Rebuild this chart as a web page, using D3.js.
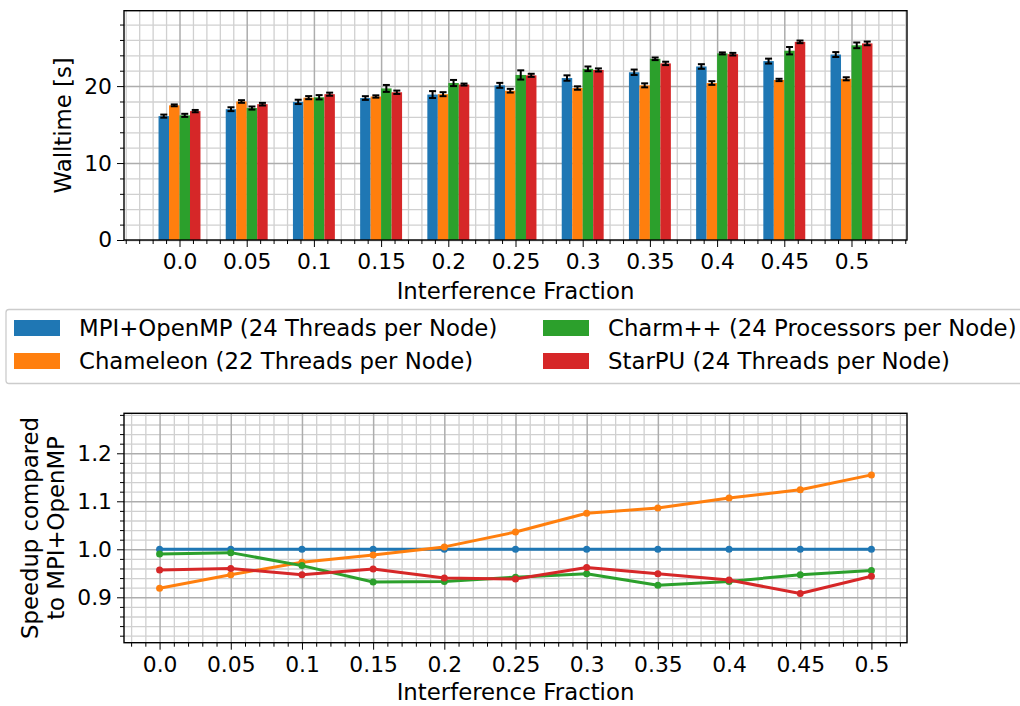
<!DOCTYPE html>
<html>
<head>
<meta charset="utf-8">
<script src="https://cdn.jsdelivr.net/npm/d3@7"></script>
<style>
  body { margin: 0; background: #fff; }
  text { font-family: "DejaVu Sans", sans-serif; fill: #000; }
</style>
</head>
<body>
<div id="container"></div>
<script>
/* DATA */
const fractionLabels = ["0.0", "0.05", "0.1", "0.15", "0.2", "0.25", "0.3", "0.35", "0.4", "0.45", "0.5"];
const fractionValues = [0, 0.05, 0.1, 0.15, 0.2, 0.25, 0.3, 0.35, 0.4, 0.45, 0.5];
const seriesNames = [
  "MPI+OpenMP (24 Threads per Node)",
  "Chameleon (22 Threads per Node)",
  "Charm++ (24 Processors per Node)",
  "StarPU (24 Threads per Node)"
];
const seriesColors = ["#1f77b4", "#ff7f0e", "#2ca02c", "#d62728"];

// walltime means [s]
const mpiWall = [16.1, 17.0, 17.95, 18.45, 18.9, 20.1, 21.05, 21.8, 22.55, 23.25, 24.1];
const chameleonWall = [17.5, 18.0, 18.5, 18.65, 18.95, 19.4, 19.75, 20.1, 20.4, 20.8, 20.95];
const charmWall = [16.2, 17.15, 18.55, 19.7, 20.4, 21.45, 22.25, 23.55, 24.25, 24.6, 25.3];
const starpuWall = [16.75, 17.65, 18.95, 19.2, 20.2, 21.4, 22.1, 22.95, 24.15, 25.75, 25.55];
// walltime error (half length) [s]
const mpiErr = [0.2, 0.25, 0.28, 0.24, 0.45, 0.32, 0.35, 0.35, 0.3, 0.32, 0.32];
const chameleonErr = [0.12, 0.17, 0.2, 0.15, 0.26, 0.24, 0.22, 0.26, 0.24, 0.15, 0.2];
const charmErr = [0.2, 0.2, 0.28, 0.45, 0.4, 0.6, 0.3, 0.17, 0.13, 0.48, 0.37];
const starpuErr = [0.15, 0.17, 0.2, 0.22, 0.13, 0.2, 0.2, 0.22, 0.17, 0.17, 0.24];

// speedup compared to MPI+OpenMP
const mpiSpeedup = [1, 1, 1, 1, 1, 1, 1, 1, 1, 1, 1];
const chameleonSpeedup = [0.919, 0.947, 0.973, 0.988, 1.005, 1.036, 1.075, 1.086, 1.107, 1.124, 1.155];
const charmSpeedup = [0.99, 0.993, 0.966, 0.932, 0.933, 0.942, 0.949, 0.925, 0.933, 0.947, 0.956];
const starpuSpeedup = [0.957, 0.960, 0.947, 0.959, 0.940, 0.938, 0.962, 0.949, 0.936, 0.908, 0.944];

const yTicksTop = [0, 10, 20];
const yTicksBottom = [0.9, 1.0, 1.1, 1.2];

/* CONSTANTS */
const width = 1020, height = 706;
const fontTick = 21.8, fontLabel = 22.8;
const majorGrid = "#adadad", minorGrid = "#d0d0d0";

const svg = d3.select("#container").append("svg")
  .attr("width", width).attr("height", height);

const walls = [mpiWall, chameleonWall, charmWall, starpuWall];
const errs = [mpiErr, chameleonErr, charmErr, starpuErr];
const speedups = [mpiSpeedup, chameleonSpeedup, charmSpeedup, starpuSpeedup];

/* ---------- TOP: BAR CHART ---------- */
const topBox = { left: 124, right: 907, top: 10.7, bottom: 240 };
const xTop = d3.scaleLinear().domain([-0.826, 10.826]).range([topBox.left, topBox.right]);
const yTop = d3.scaleLinear().domain([0, 29.8]).range([topBox.bottom, topBox.top]);

const gTop = svg.append("g");

// grid (minor, then major)
const xMinorTop = d3.range(-4, 55).map(i => i * 0.2).filter(v => Math.abs(v - Math.round(v)) > 1e-6);
const yMinorTop = d3.range(1, 15).map(i => i * 2).filter(v => v % 10 !== 0);

gTop.append("g").attr("transform", `translate(0,${topBox.bottom})`)
  .call(d3.axisBottom(xTop).tickValues(xMinorTop).tickSize(-(topBox.bottom - topBox.top)).tickFormat(""))
  .call(g => g.select(".domain").remove())
  .call(g => g.selectAll("line").attr("stroke", minorGrid).attr("stroke-width", 1.3));
gTop.append("g").attr("transform", `translate(${topBox.left},0)`)
  .call(d3.axisLeft(yTop).tickValues(yMinorTop).tickSize(-(topBox.right - topBox.left)).tickFormat(""))
  .call(g => g.select(".domain").remove())
  .call(g => g.selectAll("line").attr("stroke", minorGrid).attr("stroke-width", 1.3));
gTop.append("g").attr("transform", `translate(0,${topBox.bottom})`)
  .call(d3.axisBottom(xTop).tickValues(d3.range(11)).tickSize(-(topBox.bottom - topBox.top)).tickFormat(""))
  .call(g => g.select(".domain").remove())
  .call(g => g.selectAll("line").attr("stroke", majorGrid).attr("stroke-width", 1.5));
gTop.append("g").attr("transform", `translate(${topBox.left},0)`)
  .call(d3.axisLeft(yTop).tickValues(yTicksTop).tickSize(-(topBox.right - topBox.left)).tickFormat(""))
  .call(g => g.select(".domain").remove())
  .call(g => g.selectAll("line").attr("stroke", majorGrid).attr("stroke-width", 1.5));

// bars
const barW = 0.156;
walls.forEach((vals, s) => {
  const off = (s - 1.5) * barW;
  gTop.selectAll(`rect.s${s}`)
    .data(vals)
    .join("rect")
    .attr("class", `s${s}`)
    .attr("x", (d, i) => xTop(i + off - barW / 2))
    .attr("width", xTop(barW) - xTop(0))
    .attr("y", d => yTop(d))
    .attr("height", d => yTop(0) - yTop(d))
    .attr("fill", seriesColors[s]);
});

// error bars
walls.forEach((vals, s) => {
  const off = (s - 1.5) * barW;
  const eg = gTop.append("g").attr("stroke", "#000").attr("stroke-width", 2);
  vals.forEach((v, i) => {
    const cx = xTop(i + off);
    const e = errs[s][i];
    eg.append("line").attr("x1", cx).attr("x2", cx).attr("y1", yTop(v - e)).attr("y2", yTop(v + e));
    [v - e, v + e].forEach(c => {
      eg.append("line").attr("x1", cx - 3.5).attr("x2", cx + 3.5).attr("y1", yTop(c)).attr("y2", yTop(c));
    });
  });
});

// axes
gTop.append("g").attr("transform", `translate(0,${topBox.bottom})`)
  .call(d3.axisBottom(xTop).tickValues(xMinorTop).tickSize(4).tickFormat(""))
  .call(g => g.select(".domain").remove());
gTop.append("g").attr("transform", `translate(0,${topBox.bottom})`)
  .call(d3.axisBottom(xTop).tickValues(d3.range(11)).tickSize(7).tickPadding(7)
    .tickFormat(i => fractionLabels[i]))
  .call(g => g.select(".domain").remove())
  .call(g => g.selectAll("text").attr("font-size", fontTick).attr("font-family", "DejaVu Sans"));
gTop.append("g").attr("transform", `translate(${topBox.left},0)`)
  .call(d3.axisLeft(yTop).tickValues(yMinorTop).tickSize(4).tickFormat(""))
  .call(g => g.select(".domain").remove());
gTop.append("g").attr("transform", `translate(${topBox.left},0)`)
  .call(d3.axisLeft(yTop).tickValues(yTicksTop).tickSize(7).tickPadding(5).tickFormat(d3.format("d")))
  .call(g => g.select(".domain").remove())
  .call(g => g.selectAll("text").attr("font-size", fontTick).attr("font-family", "DejaVu Sans"));
gTop.append("rect")
  .attr("x", topBox.left).attr("y", topBox.top)
  .attr("width", topBox.right - topBox.left).attr("height", topBox.bottom - topBox.top)
  .attr("fill", "none").attr("stroke", "#000").attr("stroke-width", 1.4);

gTop.append("text")
  .attr("x", (topBox.left + topBox.right) / 2).attr("y", 299)
  .attr("text-anchor", "middle").attr("font-size", fontLabel)
  .text("Interference Fraction");
gTop.append("text")
  .attr("transform", `translate(71,${(topBox.top + topBox.bottom) / 2}) rotate(-90)`)
  .attr("text-anchor", "middle").attr("font-size", fontLabel)
  .text("Walltime [s]");

/* ---------- LEGEND ---------- */
const legend = svg.append("g");
legend.append("rect")
  .attr("x", 6).attr("y", 309.5).attr("width", 1030).attr("height", 74)
  .attr("rx", 3).attr("fill", "#fff").attr("stroke", "#cccccc").attr("stroke-width", 1.3);
const legCols = [14, 543], legRows = [320, 353];
seriesNames.forEach((name, s) => {
  const col = s < 2 ? 0 : 1, row = s % 2;
  legend.append("rect")
    .attr("x", legCols[col]).attr("y", legRows[row])
    .attr("width", 46).attr("height", 16)
    .attr("fill", seriesColors[s]);
  legend.append("text")
    .attr("x", legCols[col] + 65).attr("y", legRows[row] + 8)
    .attr("dy", "0.36em").attr("font-size", fontLabel)
    .text(name);
});

/* ---------- BOTTOM: SPEEDUP LINES ---------- */
const botBox = { left: 124, right: 907, top: 413.3, bottom: 642.7 };
const xBot = d3.scaleLinear().domain([-0.025, 0.525]).range([botBox.left, botBox.right]);
const yBot = d3.scaleLinear().domain([0.8054, 1.2833]).range([botBox.bottom, botBox.top]);

const gBot = svg.append("g");
const xMinorBot = d3.range(-2, 53).map(i => i / 100).filter(v => Math.round(v * 100) % 5 !== 0);
const yMinorBot = d3.range(41, 65).map(i => i / 50).filter(v => Math.round(v * 100) % 10 !== 0);

gBot.append("g").attr("transform", `translate(0,${botBox.bottom})`)
  .call(d3.axisBottom(xBot).tickValues(xMinorBot).tickSize(-(botBox.bottom - botBox.top)).tickFormat(""))
  .call(g => g.select(".domain").remove())
  .call(g => g.selectAll("line").attr("stroke", minorGrid).attr("stroke-width", 1.3));
gBot.append("g").attr("transform", `translate(${botBox.left},0)`)
  .call(d3.axisLeft(yBot).tickValues(yMinorBot).tickSize(-(botBox.right - botBox.left)).tickFormat(""))
  .call(g => g.select(".domain").remove())
  .call(g => g.selectAll("line").attr("stroke", minorGrid).attr("stroke-width", 1.3));
gBot.append("g").attr("transform", `translate(0,${botBox.bottom})`)
  .call(d3.axisBottom(xBot).tickValues(fractionValues).tickSize(-(botBox.bottom - botBox.top)).tickFormat(""))
  .call(g => g.select(".domain").remove())
  .call(g => g.selectAll("line").attr("stroke", majorGrid).attr("stroke-width", 1.5));
gBot.append("g").attr("transform", `translate(${botBox.left},0)`)
  .call(d3.axisLeft(yBot).tickValues(yTicksBottom).tickSize(-(botBox.right - botBox.left)).tickFormat(""))
  .call(g => g.select(".domain").remove())
  .call(g => g.selectAll("line").attr("stroke", majorGrid).attr("stroke-width", 1.5));

const line = d3.line().x((d, i) => xBot(fractionValues[i])).y(d => yBot(d));
speedups.forEach((vals, s) => {
  gBot.append("path")
    .datum(vals)
    .attr("d", line)
    .attr("fill", "none")
    .attr("stroke", seriesColors[s])
    .attr("stroke-width", 3)
    .attr("stroke-linejoin", "round");
  gBot.selectAll(`circle.s${s}`)
    .data(vals)
    .join("circle")
    .attr("class", `s${s}`)
    .attr("cx", (d, i) => xBot(fractionValues[i]))
    .attr("cy", d => yBot(d))
    .attr("r", 3.5)
    .attr("fill", seriesColors[s]);
});

gBot.append("g").attr("transform", `translate(0,${botBox.bottom})`)
  .call(d3.axisBottom(xBot).tickValues(xMinorBot).tickSize(4).tickFormat(""))
  .call(g => g.select(".domain").remove());
gBot.append("g").attr("transform", `translate(0,${botBox.bottom})`)
  .call(d3.axisBottom(xBot).tickValues(fractionValues).tickSize(7).tickPadding(7)
    .tickFormat((d, i) => fractionLabels[i]))
  .call(g => g.select(".domain").remove())
  .call(g => g.selectAll("text").attr("font-size", fontTick).attr("font-family", "DejaVu Sans"));
gBot.append("g").attr("transform", `translate(${botBox.left},0)`)
  .call(d3.axisLeft(yBot).tickValues(yMinorBot).tickSize(4).tickFormat(""))
  .call(g => g.select(".domain").remove());
gBot.append("g").attr("transform", `translate(${botBox.left},0)`)
  .call(d3.axisLeft(yBot).tickValues(yTicksBottom).tickSize(7).tickPadding(5).tickFormat(d3.format(".1f")))
  .call(g => g.select(".domain").remove())
  .call(g => g.selectAll("text").attr("font-size", fontTick).attr("font-family", "DejaVu Sans"));
gBot.append("rect")
  .attr("x", botBox.left).attr("y", botBox.top)
  .attr("width", botBox.right - botBox.left).attr("height", botBox.bottom - botBox.top)
  .attr("fill", "none").attr("stroke", "#000").attr("stroke-width", 1.4);

gBot.append("text")
  .attr("x", (botBox.left + botBox.right) / 2).attr("y", 700)
  .attr("text-anchor", "middle").attr("font-size", fontLabel)
  .text("Interference Fraction");
const yl = gBot.append("text")
  .attr("transform", `translate(0,${(botBox.top + botBox.bottom) / 2}) rotate(-90)`)
  .attr("text-anchor", "middle").attr("font-size", fontLabel);
yl.append("tspan").attr("x", 0).attr("y", 38).text("Speedup compared");
yl.append("tspan").attr("x", 0).attr("y", 64).text("to MPI+OpenMP");
</script>
</body>
</html>
